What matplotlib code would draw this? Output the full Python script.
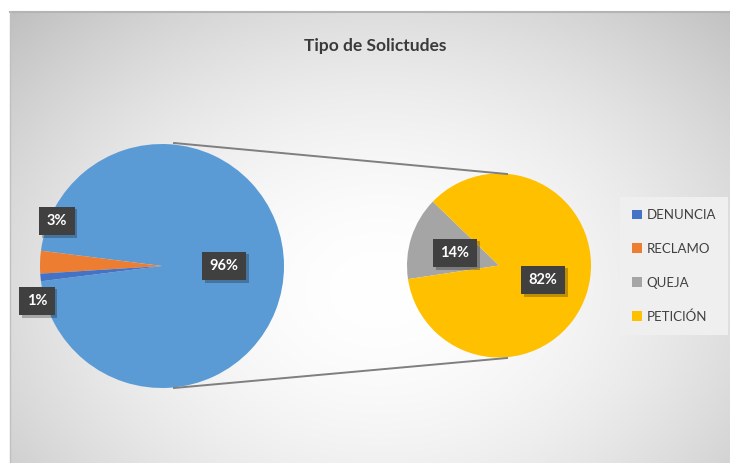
import numpy as np
import matplotlib
matplotlib.use("Agg")
import matplotlib.pyplot as plt
from matplotlib.patches import Patch
import matplotlib.patheffects as pe

# ---- data ----
categories = ["DENUNCIA", "RECLAMO", "QUEJA", "PETICIÓN"]
values = [1, 3, 14, 82]
colors = ["#4472C4", "#ED7D31", "#A5A5A5", "#FFC000"]
other_color = "#5B9BD5"
title = "Tipo de Solictudes"

W, H = 730, 463
fig = plt.figure(figsize=(W / 100, H / 100), dpi=100)
fig.patch.set_facecolor("white")
ax = fig.add_axes([0, 0, 1, 1])
ax.set_xlim(0, W)
ax.set_ylim(0, H)
ax.set_aspect("equal")
ax.axis("off")

plt.rcParams["font.family"] = ["Lato", "DejaVu Sans"]

# ---- chart-area background: radial gradient ----
x0, x1, y0, y1 = 10, 730, 0, H - 12  # data coords (y up)
gx = np.linspace(x0, x1, 500)
gy = np.linspace(y0, y1, 320)
XX, YY = np.meshgrid(gx, gy)
cx, cy = 380, H - 290
r = np.sqrt(((XX - cx) / 430) ** 2 + ((YY - cy) / 330) ** 2)
v = 1.0 - 0.18 * r ** 1.8
img = np.dstack([v, v, v])
ax.imshow(img, extent=[x0, x1, y0, y1], origin="lower", zorder=0, aspect="auto",
          interpolation="bilinear")
ax.plot([x0, x1], [y1, y1], color="#b4b4b4", lw=1.5, zorder=1)
ax.plot([x0, x0], [y0, y1], color="#c0c0c0", lw=1.0, zorder=1)

# ---- title ----
ax.text(375, H - 46, title, ha="center", va="center", fontsize=12.5,
        fontweight="bold", color="#3a3a3a", zorder=5)

# ---- main pie ----
n_split = 2  # DENUNCIA, RECLAMO shown in main pie
other = sum(values[n_split:])
main_vals = [other, values[1], values[0]]
main_cols = [other_color, colors[1], colors[0]]
other_deg = other / sum(values) * 360
c1 = (162, H - 266)
r1 = 122
ax.pie(main_vals, colors=main_cols, startangle=-other_deg / 2, counterclock=True,
       center=c1, radius=r1, frame=True, wedgeprops=dict(linewidth=0))

# ---- secondary pie ----
sec_vals = [values[2], values[3]]
sec_cols = [colors[2], colors[3]]
c2 = (499, H - 265.5)
r2 = 92
ax.pie(sec_vals, colors=sec_cols, startangle=136, counterclock=True,
       center=c2, radius=r2, frame=True, wedgeprops=dict(linewidth=0))

ax.set_xlim(0, W)
ax.set_ylim(0, H)
ax.axis("off")

# ---- connector lines ----
ax.plot([174, 507], [H - 143, H - 174], color="#7f7f7f", lw=1.4, zorder=3)
ax.plot([174, 507], [H - 388, H - 358], color="#7f7f7f", lw=1.4, zorder=3)

# ---- data labels ----
label_pos = {
    "DENUNCIA": (37, H - 301),
    "RECLAMO": (57, H - 221),
    "OTHER": (224, H - 266),
    "QUEJA": (455, H - 253),
    "PETICIÓN": (543, H - 280),
}
texts = [
    (label_pos["DENUNCIA"], f"{values[0]}%"),
    (label_pos["RECLAMO"], f"{values[1]}%"),
    (label_pos["OTHER"], f"{other}%"),
    (label_pos["QUEJA"], f"{values[2]}%"),
    (label_pos["PETICIÓN"], f"{values[3]}%"),
]
for (px, py), s in texts:
    t = ax.text(px, py, s, ha="center", va="center", fontsize=10.5,
                fontweight="bold", color="white", zorder=6,
                bbox=dict(boxstyle="square,pad=0.5", facecolor="#404040",
                          edgecolor="none"))
    t.get_bbox_patch().set_path_effects(
        [pe.SimplePatchShadow(offset=(2, -2), shadow_rgbFace="black", alpha=0.25),
         pe.Normal()])

# ---- legend ----
handles = [Patch(facecolor=c, edgecolor="none", label=l) for c, l in zip(colors, categories)]
leg = ax.legend(handles=handles, loc="center left",
                bbox_to_anchor=(620 / W, (H - 266) / H),
                frameon=True, fancybox=False, fontsize=9.5,
                handlelength=0.75, handleheight=0.75, handletextpad=0.35,
                labelspacing=1.65, borderpad=0.9, borderaxespad=0)
leg.get_frame().set_facecolor("#efefef")
leg.get_frame().set_edgecolor("none")
leg.get_frame().set_alpha(1)
for t in leg.get_texts():
    t.set_color("#404040")

fig.savefig("out.png", dpi=100, facecolor=fig.get_facecolor())
